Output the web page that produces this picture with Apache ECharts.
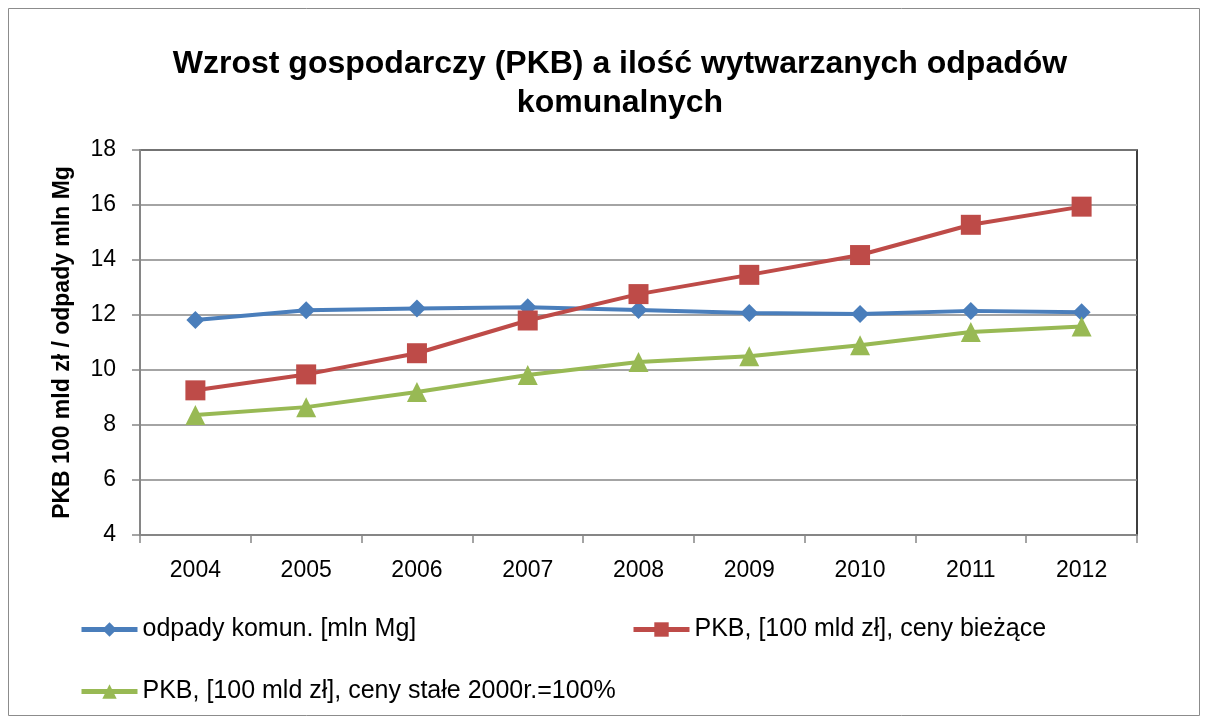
<!DOCTYPE html>
<html>
<head>
<meta charset="utf-8"/>
<title>PKB a odpady</title>
<script src="https://cdn.jsdelivr.net/npm/echarts@6/dist/echarts.min.js"></script>
<style>
  html, body { margin: 0; padding: 0; background: #fff; }
  #main { width: 1208px; height: 724px; }
</style>
</head>
<body>
<div id="main"></div>
<script type="text/javascript">
// dane
var years = ['2004', '2005', '2006', '2007', '2008', '2009', '2010', '2011', '2012'];
var odpady = [11.82, 12.17, 12.24, 12.28, 12.18, 12.07, 12.04, 12.15, 12.10];
var pkbBiezace = [9.26, 9.84, 10.61, 11.80, 12.76, 13.46, 14.18, 15.28, 15.94];
var pkbStale = [8.36, 8.65, 9.20, 9.82, 10.29, 10.50, 10.90, 11.38, 11.58];
var seriesNames = [
  'odpady komun. [mln Mg]',
  'PKB, [100 mld zł], ceny bieżące',
  'PKB, [100 mld zł], ceny stałe 2000r.=100%'
];

var font = 'Liberation Sans, Arial, sans-serif';

var myChart = echarts.init(document.getElementById('main'));

function legendAt(name, left, top) {
  return {
    data: [name],
    left: left,
    top: top,
    itemWidth: 56,
    itemHeight: 18,
    itemGap: 3,
    lineStyle: { width: 5 },
    textStyle: { fontFamily: font, fontSize: 25, color: '#000' }
  };
}

var option = {
  animation: false,
  backgroundColor: '#fff',
  title: {
    text: 'Wzrost gospodarczy (PKB) a ilość wytwarzanych odpadów\nkomunalnych',
    left: 615,
    textAlign: 'center',
    top: 40,
    textStyle: { fontFamily: font, fontSize: 32, fontWeight: 'bold', color: '#000', lineHeight: 39 }
  },
  graphic: [{
    type: 'rect',
    shape: { x: 8.5, y: 8.5, width: 1191, height: 707 },
    style: { fill: 'none', stroke: '#8c8c8c', lineWidth: 1 }
  }],
  legend: [
    legendAt(seriesNames[0], 74, 612),
    legendAt(seriesNames[1], 626, 612),
    legendAt(seriesNames[2], 74, 674)
  ],
  grid: {
    left: 140, right: 71, top: 150, bottom: 189,
    show: true, borderColor: '#000', borderWidth: 1.5
  },
  xAxis: {
    type: 'category',
    data: years,
    boundaryGap: true,
    axisLine: { lineStyle: { color: '#868686', width: 2 } },
    axisTick: { show: true, length: 8, lineStyle: { color: '#868686', width: 1.5 } },
    axisLabel: { fontFamily: font, fontSize: 23, color: '#000', margin: 24 }
  },
  yAxis: {
    type: 'value',
    min: 4, max: 18, interval: 2,
    name: 'PKB 100 mld zł / odpady mln Mg',
    nameLocation: 'middle',
    nameGap: 66,
    nameTextStyle: { fontFamily: font, fontSize: 23, fontWeight: 'bold', color: '#000' },
    axisLine: { show: true, lineStyle: { color: '#868686', width: 2 } },
    axisTick: { show: true, length: 8, lineStyle: { color: '#868686', width: 1.5 } },
    axisLabel: { fontFamily: font, fontSize: 23, color: '#000', margin: 24 },
    splitLine: { lineStyle: { color: '#868686', width: 1.5 } }
  },
  series: [
    {
      name: seriesNames[0], type: 'line', data: odpady,
      symbol: 'diamond', symbolSize: 18,
      lineStyle: { color: '#4a7ebb', width: 4 },
      itemStyle: { color: '#4a7ebb' }
    },
    {
      name: seriesNames[1], type: 'line', data: pkbBiezace,
      symbol: 'rect', symbolSize: 20,
      lineStyle: { color: '#be4b48', width: 4 },
      itemStyle: { color: '#be4b48' }
    },
    {
      name: seriesNames[2], type: 'line', data: pkbStale,
      symbol: 'triangle', symbolSize: 20,
      lineStyle: { color: '#98b954', width: 4 },
      itemStyle: { color: '#98b954' }
    }
  ]
};

myChart.setOption(option);
</script>
</body>
</html>
